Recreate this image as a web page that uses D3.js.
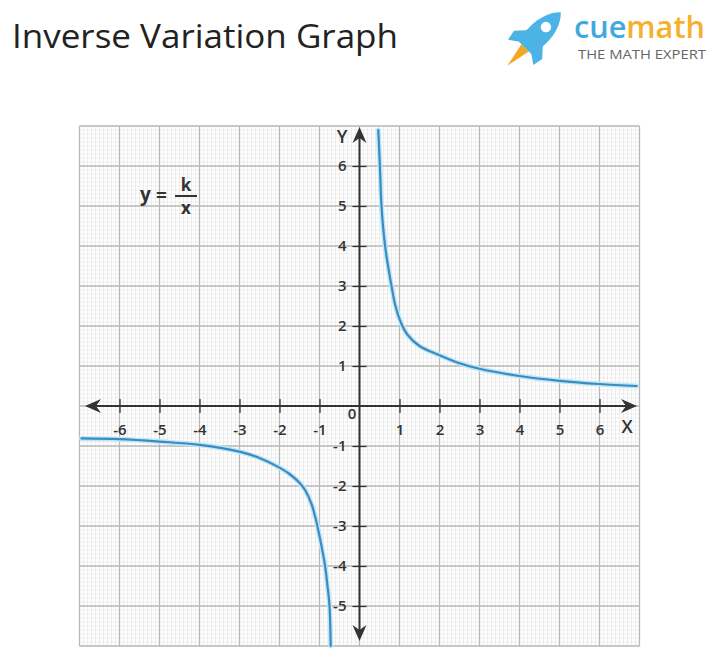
<!DOCTYPE html>
<html>
<head>
<meta charset="utf-8">
<script src="https://cdn.jsdelivr.net/npm/d3@7"></script>
<style>
  body { margin: 0; background: #fff; }
  svg { display: block; }
  .tickLabel { font-family: "Open Sans", sans-serif; font-size: 15px; font-weight: 600; fill: #333; }
</style>
</head>
<body>
<script>
(function(){

    //values
    var xTicks = [-6, -5, -4, -3, -2, -1, 1, 2, 3, 4, 5, 6];
    var yTicks = [-5, -4, -3, -2, -1, 1, 2, 3, 4, 5, 6];
    var xDomain = [-7, 7];
    var yDomain = [-6, 7];

    //upper right branch [x, y]
    var upperBranch = [
        [0.47, 6.9], [0.51, 6], [0.55, 5], [0.64, 4], [0.8, 3], [0.9, 2.5],
        [1.05, 2.05], [1.2, 1.78], [1.5, 1.5], [2, 1.27], [2.5, 1.07], [3, 0.93],
        [4, 0.75], [5, 0.63], [6, 0.55], [6.93, 0.5]
    ];

    //lower left branch [x, y]
    var lowerBranch = [
        [-6.95, -0.81], [-6, -0.83], [-5, -0.89], [-4, -0.97], [-3, -1.14],
        [-2.5, -1.3], [-2, -1.54], [-1.75, -1.7], [-1.5, -1.92], [-1.35, -2.12],
        [-1.2, -2.45], [-1.08, -2.88], [-0.98, -3.35], [-0.86, -4],
        [-0.8, -4.5], [-0.75, -5], [-0.72, -6]
    ];

    window.onload = drawChart();

    function drawChart(){
        var width = 720,
            height = 667;

        var svg = d3.select("body")
            .append("svg")
            .attr("width", width)
            .attr("height", height);

        var x = d3.scaleLinear().domain(xDomain).range([79.5, 639.5]);
        var y = d3.scaleLinear().domain(yDomain).range([646, 126]);

        drawHeader(svg);
        drawGrid(svg, x, y);
        drawAxes(svg, x, y);
        drawCurves(svg, x, y);

        //formula label y = k / x
        var f = svg.append("g")
            .attr("font-family", "Open Sans, sans-serif")
            .attr("font-weight", 700)
            .attr("fill", "#333");
        f.append("text").attr("x", 140).attr("y", 201).attr("font-size", 19).text("y");
        f.append("text").attr("x", 156).attr("y", 202).attr("font-size", 19).text("=");
        f.append("text").attr("x", 186).attr("y", 191).attr("font-size", 17)
            .attr("text-anchor", "middle").text("k");
        f.append("text").attr("x", 186).attr("y", 214).attr("font-size", 17)
            .attr("text-anchor", "middle").text("x");
        f.append("line")
            .attr("x1", 175).attr("x2", 197)
            .attr("y1", 196).attr("y2", 196)
            .attr("stroke", "#333").attr("stroke-width", 2);
    };

    function drawHeader(svg){
        svg.append("text")
            .attr("x", 12)
            .attr("y", 48)
            .attr("font-family", "Open Sans, sans-serif")
            .attr("font-size", 33)
            .attr("textLength", 386)
            .attr("lengthAdjust", "spacingAndGlyphs")
            .attr("fill", "#222")
            .text("Inverse Variation Graph");

        //rocket, drawn pointing up then tilted
        var rocket = svg.append("g")
            .attr("transform", "translate(537,36) rotate(45) scale(1.05)");
        rocket.append("path")
            .attr("d", "M-5,16 L0,40 L5,16 Z")
            .attr("fill", "#f5a623");
        rocket.append("path")
            .attr("d", "M-8,0 L-19,12 L-17,22 L-7,15 Z M8,0 L19,12 L17,22 L7,15 Z")
            .attr("fill", "#4bb3e6");
        rocket.append("path")
            .attr("d", "M0,-32 C13,-20 13,4 8,16 L-8,16 C-13,4 -13,-20 0,-32 Z")
            .attr("fill", "#4bb3e6");
        rocket.append("circle")
            .attr("cx", 0).attr("cy", -12).attr("r", 5)
            .attr("fill", "#fff");

        var logo = svg.append("text")
            .attr("x", 574)
            .attr("y", 38)
            .attr("font-family", "Open Sans, sans-serif")
            .attr("font-size", 30)
            .attr("font-weight", 600)
            .attr("textLength", 131)
            .attr("lengthAdjust", "spacingAndGlyphs");
        logo.append("tspan").attr("fill", "#3fa9e0").text("cue");
        logo.append("tspan").attr("fill", "#f5b02e").text("math");

        svg.append("text")
            .attr("x", 578)
            .attr("y", 59)
            .attr("font-family", "Open Sans, sans-serif")
            .attr("font-size", 13)
            .attr("textLength", 128)
            .attr("lengthAdjust", "spacingAndGlyphs")
            .attr("fill", "#666")
            .text("THE MATH EXPERT");
    };

    function drawGrid(svg, x, y){
        var minorX = d3.range(xDomain[0] * 10, xDomain[1] * 10 + 1).map(function(d){ return d / 10; });
        var minorY = d3.range(yDomain[0] * 10, yDomain[1] * 10 + 1).map(function(d){ return d / 10; });
        var majorX = d3.range(xDomain[0], xDomain[1] + 1);
        var majorY = d3.range(yDomain[0], yDomain[1] + 1);

        var grid = svg.append("g").attr("class", "grid");

        grid.selectAll(".minorV")
            .data(minorX)
            .enter()
            .append("line")
            .attr("x1", function(d){ return x(d); })
            .attr("x2", function(d){ return x(d); })
            .attr("y1", y(yDomain[0]))
            .attr("y2", y(yDomain[1]))
            .attr("stroke", "#e6e6e6")
            .attr("stroke-width", 0.7);

        grid.selectAll(".minorH")
            .data(minorY)
            .enter()
            .append("line")
            .attr("y1", function(d){ return y(d); })
            .attr("y2", function(d){ return y(d); })
            .attr("x1", x(xDomain[0]))
            .attr("x2", x(xDomain[1]))
            .attr("stroke", "#e6e6e6")
            .attr("stroke-width", 0.7);

        grid.selectAll(".majorV")
            .data(majorX)
            .enter()
            .append("line")
            .attr("x1", function(d){ return x(d); })
            .attr("x2", function(d){ return x(d); })
            .attr("y1", y(yDomain[0]))
            .attr("y2", y(yDomain[1]))
            .attr("stroke", "#b8b8b8")
            .attr("stroke-width", 1.3);

        grid.selectAll(".majorH")
            .data(majorY)
            .enter()
            .append("line")
            .attr("y1", function(d){ return y(d); })
            .attr("y2", function(d){ return y(d); })
            .attr("x1", x(xDomain[0]))
            .attr("x2", x(xDomain[1]))
            .attr("stroke", "#b8b8b8")
            .attr("stroke-width", 1.3);
    };

    function drawAxes(svg, x, y){
        var axisColor = "#333";
        var x0 = x(0), y0 = y(0);
        var plain = function(d){ return String(d); }; //hyphen minus like the picture

        //x axis with ticks crossing the line
        var xAxis = svg.append("g")
            .attr("transform", "translate(0," + y0 + ")")
            .call(d3.axisBottom(x).tickValues(xTicks).tickFormat(plain).tickSize(7).tickPadding(11));
        xAxis.select(".domain").remove();
        xAxis.selectAll(".tick line").attr("y1", -7).attr("stroke", axisColor).attr("stroke-width", 1.3);
        xAxis.selectAll(".tick text").attr("class", "tickLabel").attr("fill", null);

        var yAxis = svg.append("g")
            .attr("transform", "translate(" + x0 + ",0)")
            .call(d3.axisLeft(y).tickValues(yTicks).tickFormat(plain).tickSize(7).tickPadding(6));
        yAxis.select(".domain").remove();
        yAxis.selectAll(".tick line").attr("x1", 7).attr("stroke", axisColor).attr("stroke-width", 1.3);
        yAxis.selectAll(".tick text").attr("class", "tickLabel").attr("fill", null);

        //main axis lines
        svg.append("line")
            .attr("x1", 88).attr("x2", 634)
            .attr("y1", y0).attr("y2", y0)
            .attr("stroke", axisColor).attr("stroke-width", 2);
        svg.append("line")
            .attr("x1", x0).attr("x2", x0)
            .attr("y1", 130).attr("y2", 637)
            .attr("stroke", axisColor).attr("stroke-width", 2);

        //barbed arrow heads
        var arrow = "M0,0 L-16,-7 L-11,0 L-16,7 Z";
        var heads = [
            [637, y0, 0], [85, y0, 180], [x0, 127, -90], [x0, 641, 90]
        ];
        svg.selectAll(".arrowHead")
            .data(heads)
            .enter()
            .append("path")
            .attr("d", arrow)
            .attr("transform", function(d){ return "translate(" + d[0] + "," + d[1] + ") rotate(" + d[2] + ")"; })
            .attr("fill", axisColor);

        //origin and axis names
        svg.append("text").attr("class", "tickLabel")
            .attr("x", 352).attr("y", 419).attr("text-anchor", "middle").text("0");
        svg.append("text").attr("class", "tickLabel")
            .attr("x", 627).attr("y", 433).attr("text-anchor", "middle")
            .style("font-size", "18px").text("X");
        svg.append("text").attr("class", "tickLabel")
            .attr("x", 342).attr("y", 143).attr("text-anchor", "middle")
            .style("font-size", "18px").text("Y");
    };

    function drawCurves(svg, x, y){
        var line = d3.line()
            .x(function(d){ return x(d[0]); })
            .y(function(d){ return y(d[1]); })
            .curve(d3.curveCatmullRom.alpha(0.5));

        [upperBranch, lowerBranch].forEach(function(branch){
            svg.append("path")
                .datum(branch)
                .attr("d", line)
                .attr("fill", "none")
                .attr("stroke", "#bfe6f7")
                .attr("stroke-width", 5)
                .attr("stroke-linecap", "round");
            svg.append("path")
                .datum(branch)
                .attr("d", line)
                .attr("fill", "none")
                .attr("stroke", "#3a8cc0")
                .attr("stroke-width", 2.2)
                .attr("stroke-linecap", "round");
        });
    };

})();
</script>
</body>
</html>
